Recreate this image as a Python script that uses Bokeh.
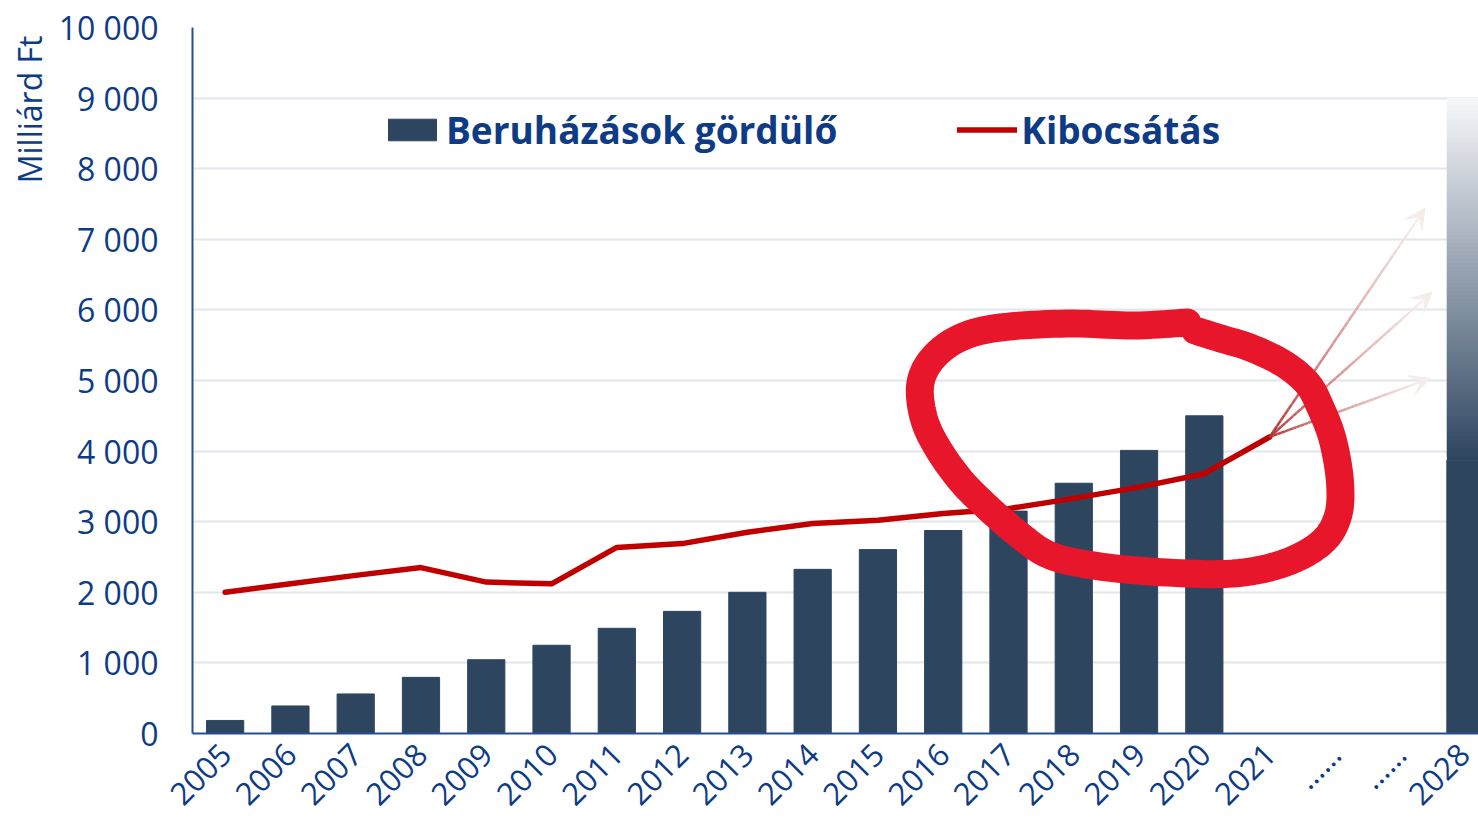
import math
import numpy as np
from bokeh.plotting import figure
from bokeh.models import (Range1d, FixedTicker, Legend, LegendItem, Title,
                          ColumnDataSource, Arrow, VeeHead)
from bokeh.embed import file_html
from bokeh.resources import INLINE

# ---------------- data ----------------
categories = ["2005", "2006", "2007", "2008", "2009", "2010", "2011", "2012", "2013",
              "2014", "2015", "2016", "2017", "2018", "2019", "2020", "2021",
              "……", "……", "2028"]
bar_years = ["2005", "2006", "2007", "2008", "2009", "2010", "2011", "2012", "2013",
             "2014", "2015", "2016", "2017", "2018", "2019", "2020"]
beruhazasok = [185, 390, 560, 795, 1045, 1250, 1490, 1730, 2000, 2325, 2605, 2875,
               3150, 3545, 4010, 4500]
bar_2028 = 9000
line_years = ["2005", "2006", "2007", "2008", "2009", "2010", "2011", "2012", "2013",
              "2014", "2015", "2016", "2017", "2018", "2019", "2020", "2021"]
kibocsatas = [2000, 2120, 2240, 2350, 2145, 2120, 2635, 2690, 2850, 2975, 3020, 3115,
              3185, 3330, 3490, 3680, 4200]
# scenario arrows (end points, x in category-index units)
scenario_end_x = [18.38, 18.49, 18.46]
scenario_end_y = [7440, 6250, 5030]
# hand-drawn highlight loop (x in category-index units, y in Milliárd Ft)
loop_x = [14.74, 13.91, 12.90, 11.88, 11.27, 10.85, 10.65, 10.70, 10.91, 11.27, 11.68,
          12.14, 12.64, 13.41, 14.43, 15.44, 16.21, 16.78, 17.04, 17.08, 16.97, 16.78,
          16.58, 16.21, 15.70, 15.25, 14.86]
loop_y = [5821, 5779, 5807, 5751, 5609, 5326, 4957, 4476, 4051, 3583, 3201, 2833, 2521,
          2365, 2280, 2266, 2408, 2691, 3059, 3541, 4150, 4617, 4957, 5241, 5467, 5595,
          5708]
y_ticks = list(range(0, 10001, 1000))
y_tick_labels = [f"{v:,}".replace(",", " ") for v in y_ticks]

# ---------------- style ----------------
NAVY = "#0D3B85"
AXIS = "#24508F"
BAR = "#2E4560"
LIGHT = "#F7F8FA"
RED = "#C00000"
LOOP = "#E8162B"
GRID = "#E1E6EC"
FONT = "Open Sans"


def mix(c1, c2, t):
    a = [int(c1[i:i + 2], 16) for i in (1, 3, 5)]
    b = [int(c2[i:i + 2], 16) for i in (1, 3, 5)]
    return "#" + "".join(f"{round(a[k] + (b[k] - a[k]) * t):02x}" for k in range(3))


def smooth(xs, ys, sub=10):
    """Catmull-Rom smoothing of the freehand annotation path."""
    px, py = [xs[0]] + xs + [xs[-1]], [ys[0]] + ys + [ys[-1]]
    ox, oy = [], []
    for i in range(1, len(px) - 2):
        for s in range(sub):
            t = s / sub
            t2, t3 = t * t, t * t * t
            for src, out in ((px, ox), (py, oy)):
                p0, p1, p2, p3 = src[i - 1], src[i], src[i + 1], src[i + 2]
                out.append(0.5 * (2 * p1 + (-p0 + p2) * t + (2 * p0 - 5 * p1 + 4 * p2 - p3) * t2
                                  + (-p0 + 3 * p1 - 3 * p2 + p3) * t3))
    ox.append(xs[-1]); oy.append(ys[-1])
    return ox, oy


idx = {c: i for i, c in enumerate(categories)}
x_positions = list(range(len(categories)))

p = figure(width=1478, height=832, output_backend="svg", toolbar_location=None,
           x_range=Range1d(-0.5, 19.2), y_range=Range1d(0, 10000),
           min_border_left=191, min_border_right=0, min_border_top=27,
           min_border_bottom=99, outline_line_color=None,
           background_fill_color="white", border_fill_color="white")

# y axis
p.yaxis.ticker = FixedTicker(ticks=y_ticks)
p.yaxis.major_label_overrides = {v: s for v, s in zip(y_ticks, y_tick_labels)}
p.yaxis.major_label_text_font = FONT
p.yaxis.major_label_text_font_size = "32px"
p.yaxis.major_label_text_color = NAVY
p.yaxis.major_label_standoff = 34
p.yaxis.major_tick_out = 0
p.yaxis.major_tick_in = 0
p.yaxis.minor_tick_out = 0
p.yaxis.minor_tick_in = 0
p.yaxis.axis_line_color = AXIS
p.yaxis.axis_line_width = 2

# x axis
p.xaxis.ticker = FixedTicker(ticks=x_positions)
p.xaxis.major_label_overrides = {i: c for i, c in zip(x_positions, categories)}
p.xaxis.major_label_orientation = math.pi / 4
p.xaxis.major_label_text_font = FONT
p.xaxis.major_label_text_font_size = "31px"
p.xaxis.major_label_text_color = NAVY
p.xaxis.major_label_standoff = 15
p.xaxis.major_tick_out = 0
p.xaxis.major_tick_in = 0
p.xaxis.minor_tick_out = 0
p.xaxis.minor_tick_in = 0
p.xaxis.axis_line_color = AXIS
p.xaxis.axis_line_width = 2

p.xgrid.visible = False
p.ygrid.ticker = FixedTicker(ticks=y_ticks[1:-1])
p.ygrid.grid_line_color = GRID
p.ygrid.grid_line_width = 2

# y axis title, placed at the top of the axis
p.add_layout(Title(text="Milliárd Ft", align="right", offset=8, standoff=10,
                   text_font=FONT, text_font_size="32px", text_font_style="normal",
                   text_color=NAVY), "left")

# bars
bar_src = ColumnDataSource(dict(x=[idx[y] for y in bar_years], top=beruhazasok))
bars = p.vbar(x="x", top="top", width=0.57, source=bar_src, fill_color=BAR,
              line_color=BAR, line_width=1)

# 2028 bar with vertical gradient
x28 = idx["2028"]
g0 = bar_2028 * 0.43
p.vbar(x=[x28], bottom=[0], top=[g0], width=0.57, fill_color=BAR, line_color=BAR)
n = 90
edges = np.linspace(g0, bar_2028, n + 1)
step = edges[1] - edges[0]
gcols = [mix(BAR, LIGHT, (i + 0.5) / n) for i in range(n)]
tops = [min(e + step, bar_2028) for e in edges[1:]]
p.vbar(x=[x28] * n, bottom=list(edges[:-1]), top=tops,
       width=0.57, fill_color=gcols, line_color=None)

# line
line = p.line([idx[y] for y in line_years], kibocsatas, line_color=RED, line_width=5.5,
              line_join="round", line_cap="round")

# scenario arrows with fading colour
sx0, sy0 = idx[line_years[-1]], kibocsatas[-1]
segs = dict(x0=[], y0=[], x1=[], y1=[], c=[])
m = 40
for ex, ey in zip(scenario_end_x, scenario_end_y):
    for k in range(m):
        t0, t1 = k / m * 0.96, (k + 1) / m * 0.96
        segs["x0"].append(sx0 + (ex - sx0) * t0)
        segs["y0"].append(sy0 + (ey - sy0) * t0)
        segs["x1"].append(sx0 + (ex - sx0) * t1)
        segs["y1"].append(sy0 + (ey - sy0) * t1)
        segs["c"].append(mix("#B42B2B", "#F8F2F2", ((k + 0.5) / m) ** 0.75))
p.segment("x0", "y0", "x1", "y1", source=ColumnDataSource(segs), line_color="c",
          line_width=2.5)
for ex, ey in zip(scenario_end_x, scenario_end_y):
    p.add_layout(Arrow(x_start=sx0 + (ex - sx0) * 0.9, y_start=sy0 + (ey - sy0) * 0.9,
                       x_end=ex, y_end=ey, line_alpha=0,
                       end=VeeHead(size=20, fill_color="#F5ECEC", line_color="#F5ECEC")))

# freehand highlight loop
lx, ly = smooth(loop_x, loop_y)
p.line(lx, ly, line_color=LOOP, line_width=28, line_join="round", line_cap="round")

# legend
legend = Legend(items=[LegendItem(label="Beruházások gördülő", renderers=[bars]),
                       LegendItem(label="Kibocsátás", renderers=[line])],
                orientation="horizontal", location=(190, 578), padding=0, margin=0,
                spacing=120, glyph_width=60, glyph_height=27, label_standoff=4,
                label_text_font=FONT, label_text_font_size="37px",
                label_text_font_style="bold", label_text_color=NAVY,
                border_line_color=None, background_fill_alpha=0)
p.add_layout(legend)

open("out.html", "w").write(file_html(p, INLINE))
